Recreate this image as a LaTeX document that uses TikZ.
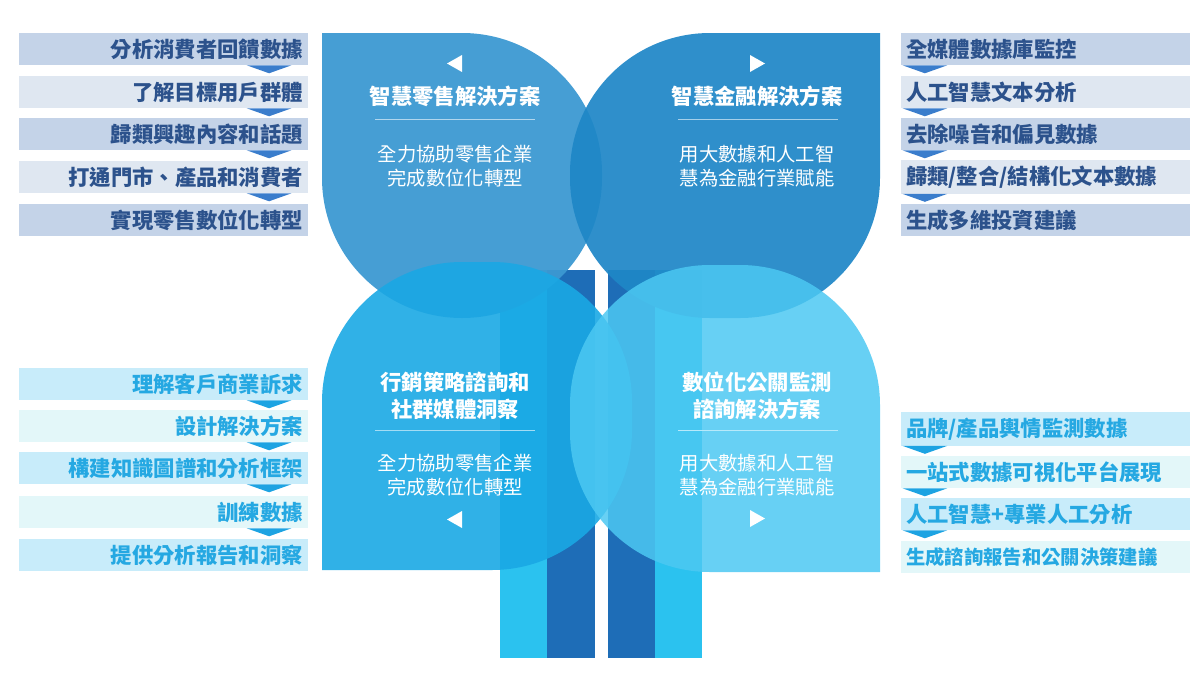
\documentclass[tikz,border=0pt]{standalone}
\usepackage{fontspec}
\setmainfont{Noto Sans CJK TC}
\usetikzlibrary{positioning}
\definecolor{dkrow}{HTML}{C4D3E8}
\definecolor{ltrow}{HTML}{DFE7F1}
\definecolor{dktxt}{HTML}{2C528C}
\definecolor{dkchev}{HTML}{3A7DCC}
\definecolor{cyrow}{HTML}{C8ECFA}
\definecolor{lcrow}{HTML}{E3F7F9}
\definecolor{cytxt}{HTML}{25A8E2}
\definecolor{cychev}{HTML}{1DA3E2}
\definecolor{pTL}{HTML}{3C99D2}
\definecolor{pTR}{HTML}{1F87C7}
\definecolor{pBL}{HTML}{1AA8E4}
\definecolor{pBR}{HTML}{4CC8F2}
\definecolor{barL}{HTML}{2BC2EF}
\definecolor{barD}{HTML}{1E6DB7}
\begin{document}
\begin{tikzpicture}[x=0.75pt,y=-0.75pt,
  row/.style={minimum width=287*0.75pt,minimum height=32*0.75pt,inner sep=4pt,font=\fontsize{16}{18}\selectfont\bfseries},
  ttl/.style={text=white,font=\fontsize{16}{20}\selectfont\bfseries,align=center},
  sub/.style={text=white,font=\fontsize{14.5}{17.5}\selectfont,align=center},
  tri/.style={fill=white}]
\useasboundingbox (0,0) rectangle (1200,675);
% bars
\fill[barL] (500,270) rectangle (547,658);
\fill[barD] (547,270) rectangle (595,658);
\fill[barD] (608,270) rectangle (655,658);
\fill[barL] (655,270) rectangle (702,658);
% petals
\fill[pTL,opacity=0.95] (322,33) [rounded corners=105pt] -- (602,33) -- (602,318) -- (322,318) [sharp corners] -- cycle;
\fill[pTR,opacity=0.93] (880,33) [rounded corners=105pt] -- (880,318) -- (570,318) -- (570,33) [sharp corners] -- cycle;
\fill[pBL,opacity=0.9] (322,570) [rounded corners=105pt] -- (322,262) -- (632,262) -- (632,570) [sharp corners] -- cycle;
\fill[pBR,opacity=0.85] (880,572) [rounded corners=105pt] -- (570,572) -- (570,265) -- (880,265) [sharp corners] -- cycle;
% petal texts
\node[ttl] (t1) at (455,96) {智慧零售解決方案};
\node[sub] (s1) at (455,166) {全力協助零售企業\\完成數位化轉型};
\draw[white!60!pTL,line width=0.6pt] (375,119) -- (535,119);
\fill[tri] (462,55) -- (462,72) -- (447,63.5) -- cycle;
\node[ttl] (t2) at (757,96) {智慧金融解決方案};
\node[sub] (s2) at (757,166) {用大數據和人工智\\慧為金融行業賦能};
\draw[white!60!pTR,line width=0.6pt] (678,119) -- (838,119);
\fill[tri] (750,55) -- (750,72) -- (765,63.5) -- cycle;
\node[ttl] (t3) at (455,396) {行銷策略諮詢和\\社群媒體洞察};
\node[sub] (s3) at (455,475) {全力協助零售企業\\完成數位化轉型};
\draw[white!60!pBL,line width=0.6pt] (375,430) -- (535,430);
\fill[tri] (462,511) -- (462,528) -- (447,519.5) -- cycle;
\node[ttl] (t4) at (757,396) {數位化公關監測\\諮詢解決方案};
\node[sub] (s4) at (757,475) {用大數據和人工智\\慧為金融行業賦能};
\draw[white!60!pBR,line width=0.6pt] (678,430) -- (838,430);
\fill[tri] (750,510) -- (750,527) -- (765,518.5) -- cycle;
% top-left list
\foreach \t/\y/\c [count=\i] in {{分析消費者回饋數據}/49/dkrow,{了解目標用戶群體}/92/ltrow,{歸類興趣內容和話題}/134/dkrow,{打通門市、產品和消費者}/177/ltrow,{實現零售數位化轉型}/220/dkrow}{
  \node[row,fill=\c,text=dktxt,align=right,text width=279*0.75pt] (a\i) at (163.5,\y) {\t};}
\foreach \i in {1,...,4}{\fill[dkchev] (a\i.south east) ++(-62,0) -- ++(45,0) -- ++(-22.5,8) -- cycle;}
% top-right list
\foreach \t/\y/\c [count=\i] in {{全媒體數據庫監控}/49/dkrow,{人工智慧文本分析}/92/ltrow,{去除噪音和偏見數據}/134/dkrow,{歸類/整合/結構化文本數據}/177/ltrow,{生成多維投資建議}/220/dkrow}{
  \node[row,fill=\c,text=dktxt,align=left,text width=279*0.75pt] (b\i) at (1045.5,\y) {\t};}
\foreach \i in {1,...,4}{\fill[dkchev] (b\i.south west) ++(2,0) -- ++(45,0) -- ++(-22.5,8) -- cycle;}
% bottom-left list
\foreach \t/\y/\c [count=\i] in {{理解客戶商業訴求}/384/cyrow,{設計解決方案}/426/lcrow,{構建知識圖譜和分析框架}/468/cyrow,{訓練數據}/512/lcrow,{提供分析報告和洞察}/555/cyrow}{
  \node[row,fill=\c,text=cytxt,align=right,text width=279*0.75pt] (c\i) at (163.5,\y) {\t};}
\foreach \i in {1,...,4}{\fill[cychev] (c\i.south east) ++(-62,0) -- ++(45,0) -- ++(-22.5,8) -- cycle;}
% bottom-right list
\foreach \t/\y/\c/\s [count=\i] in {{品牌/產品輿情監測數據}/429/cyrow/16,{一站式數據可視化平台展現}/472/lcrow/16,{人工智慧+專業人工分析}/514/cyrow/16,{生成諮詢報告和公關決策建議}/557/lcrow/14.5}{
  \node[row,fill=\c,text=cytxt,align=left,text width=279*0.75pt,font=\fontsize{\s}{18}\selectfont\bfseries] (d\i) at (1045.5,\y) {\t};}
\foreach \i in {1,...,3}{\fill[cychev] (d\i.south west) ++(2,0) -- ++(45,0) -- ++(-22.5,8) -- cycle;}
\end{tikzpicture}
\end{document}
